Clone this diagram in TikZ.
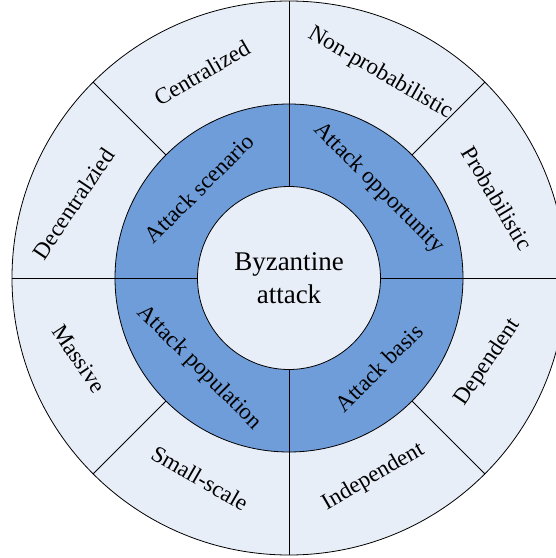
\documentclass[tikz,border=0pt]{standalone}
\usepackage{fontspec}
\setmainfont{Liberation Serif}
\definecolor{ringpale}{RGB}{232,238,248}
\definecolor{ringblue}{RGB}{111,157,217}
\usetikzlibrary{positioning}

\begin{document}
\begin{tikzpicture}[x=1pt, y=1pt,
    seglabel/.style={font=\fontsize{23}{27}\selectfont, inner sep=0pt},
    divider/.style={draw=black, line width=0.8pt}]
    \useasboundingbox (-289,-280) rectangle (267,278);
    % rings
    \filldraw[fill=ringpale, divider] (0,0) circle (277);
    \filldraw[fill=ringblue, divider] (0,0) circle (174);
    \node[circle, draw, line width=0.8pt, fill=ringpale, minimum size=183pt, inner sep=0pt,
          align=center, font=\fontsize{27}{32.5}\selectfont] (core) at (0,0) {Byzantine\\attack};
    % dividers
    \foreach \a in {0,90,180,270} {
        \draw[divider] (core.\a) -- (\a:277);
    }
    \foreach \a in {45,135,225,315} {
        \draw[divider] (\a:174) -- (\a:277);
    }
    % middle ring
    \foreach \a/\r/\txt/\nm in {135/45/Attack scenario/scenario, 45/-45/Attack opportunity/opportunity,
                                225/-45/Attack population/population, 315/45/Attack basis/basis} {
        \node[seglabel, rotate=\r] (\nm) at (\a:127) {\txt};
    }
    % outer ring
    \foreach \a/\d/\r/\txt/\nm in {113/223/30/Centralized/central, 66/224/-30/Non-probabilistic/nonprob,
                                   21/223/-59/Probabilistic/prob, -23/216/56/Dependent/dep,
                                   -67/216/30/Independent/indep, 246/219/-30/Small-scale/small,
                                   201/225/-56/Massive/massive, 161/228/56/Decentralzied/decentral} {
        \node[seglabel, rotate=\r] (\nm) at (\a:\d) {\txt};
    }
\end{tikzpicture}
\end{document}
